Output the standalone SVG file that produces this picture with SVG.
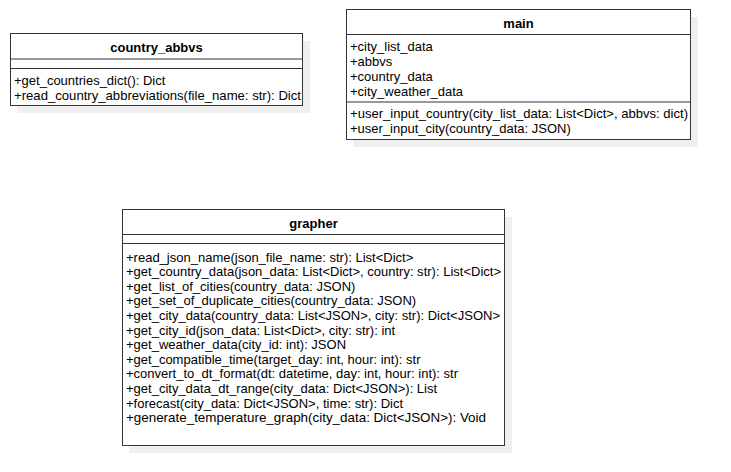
<svg xmlns="http://www.w3.org/2000/svg" width="731" height="472" viewBox="0 0 731 472">
<style>
.box{fill:#fff;stroke:#333;stroke-width:1}
.sh{fill:#efefef}
.ln{stroke:#333;stroke-width:1}
text{font-family:"Liberation Sans",Arial,Helvetica,sans-serif;font-size:13px;fill:#000}
.t{font-weight:bold;text-anchor:middle}
</style>
<rect width="731" height="472" fill="#fff"/>
<g id="country_abbvs">
<rect class="sh" x="17" y="41" width="293" height="72"/>
<rect class="box" x="10.5" y="33.5" width="292" height="72"/>
<line class="ln" x1="10.5" y1="59" x2="302.5" y2="59"/>
<line class="ln" x1="10.5" y1="68.5" x2="302.5" y2="68.5"/>
<text class="t" x="156.5" y="52">country_abbvs</text>
<text x="14" y="84.5">+get_countries_dict(): Dict</text>
<text x="14" y="99.5" textLength="287" lengthAdjust="spacingAndGlyphs">+read_country_abbreviations(file_name: str): Dict</text>
</g>
<g id="main">
<rect class="sh" x="353" y="17" width="345" height="130"/>
<rect class="box" x="346.5" y="9.5" width="344" height="130"/>
<line class="ln" x1="346.5" y1="34.5" x2="690.5" y2="34.5"/>
<line class="ln" x1="346.5" y1="102" x2="690.5" y2="102"/>
<text class="t" x="518.5" y="27.5">main</text>
<text x="350" y="50.5">+city_list_data</text>
<text x="350" y="65.5">+abbvs</text>
<text x="350" y="80.5">+country_data</text>
<text x="350" y="95.5">+city_weather_data</text>
<text x="350" y="118" textLength="338" lengthAdjust="spacingAndGlyphs">+user_input_country(city_list_data: List&lt;Dict&gt;, abbvs: dict)</text>
<text x="350" y="133">+user_input_city(country_data: JSON)</text>
</g>
<g id="grapher">
<rect class="sh" x="129" y="217" width="383" height="236"/>
<rect class="box" x="122.5" y="209.5" width="382" height="236"/>
<line class="ln" x1="122.5" y1="234.5" x2="504.5" y2="234.5"/>
<line class="ln" x1="122.5" y1="243.5" x2="504.5" y2="243.5"/>
<text class="t" x="313.5" y="227.5">grapher</text>
<text x="126" y="261.5">+read_json_name(json_file_name: str): List&lt;Dict&gt;</text>
<text x="126" y="276.1" textLength="375" lengthAdjust="spacingAndGlyphs">+get_country_data(json_data: List&lt;Dict&gt;, country: str): List&lt;Dict&gt;</text>
<text x="126" y="290.7">+get_list_of_cities(country_data: JSON)</text>
<text x="126" y="305.3">+get_set_of_duplicate_cities(country_data: JSON)</text>
<text x="126" y="319.9" textLength="374" lengthAdjust="spacingAndGlyphs">+get_city_data(country_data: List&lt;JSON&gt;, city: str): Dict&lt;JSON&gt;</text>
<text x="126" y="334.5">+get_city_id(json_data: List&lt;Dict&gt;, city: str): int</text>
<text x="126" y="349.1">+get_weather_data(city_id: int): JSON</text>
<text x="126" y="363.7">+get_compatible_time(target_day: int, hour: int): str</text>
<text x="126" y="378.3">+convert_to_dt_format(dt: datetime, day: int, hour: int): str</text>
<text x="126" y="392.9">+get_city_data_dt_range(city_data: Dict&lt;JSON&gt;): List</text>
<text x="126" y="407.5">+forecast(city_data: Dict&lt;JSON&gt;, time: str): Dict</text>
<text x="126" y="422.1" textLength="360" lengthAdjust="spacingAndGlyphs">+generate_temperature_graph(city_data: Dict&lt;JSON&gt;): Void</text>
</g>
<g id="connectors"></g>
</svg>
